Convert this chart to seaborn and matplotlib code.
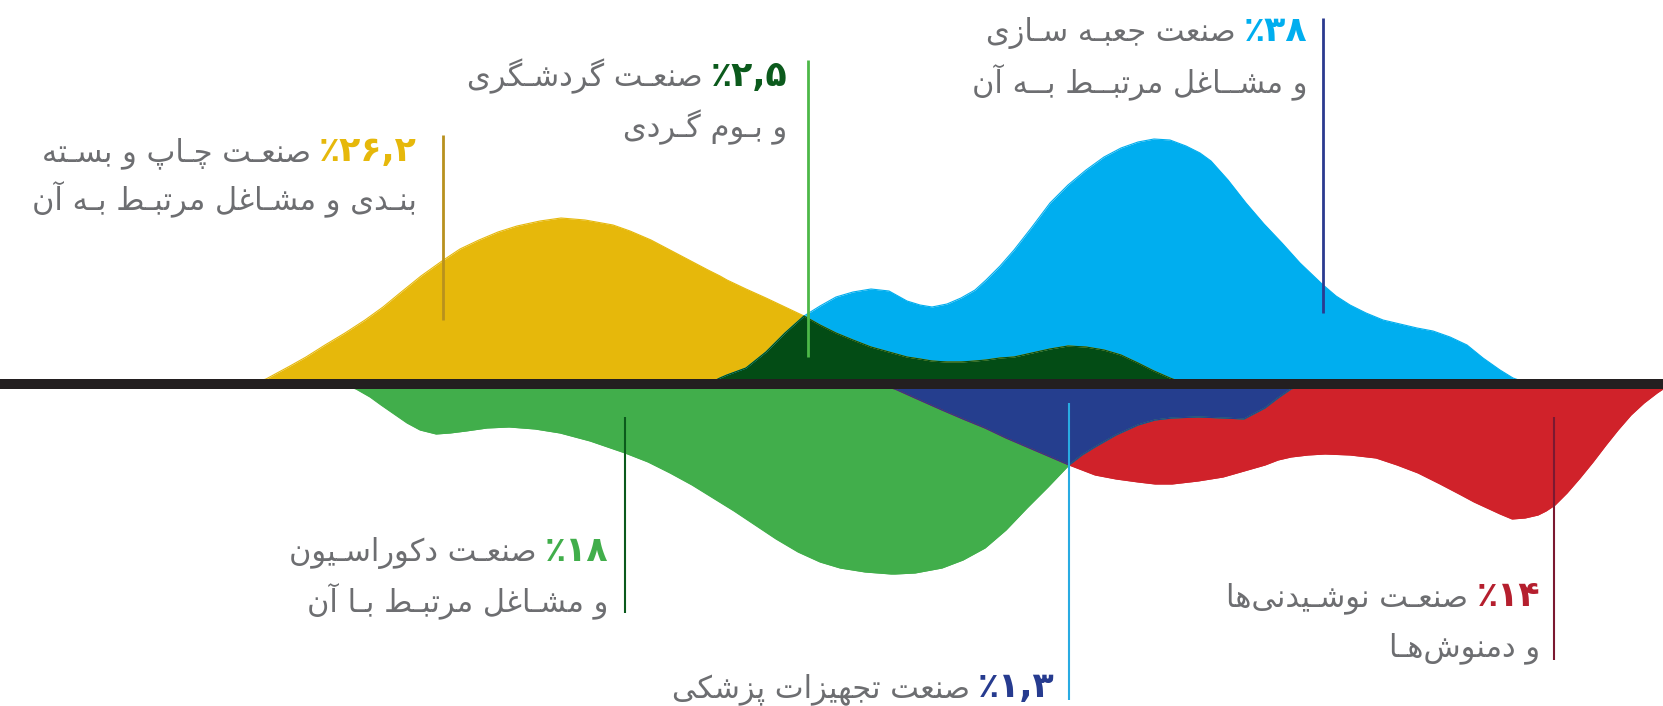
import numpy as np
import pandas as pd
import matplotlib
matplotlib.use("Agg")
import matplotlib.pyplot as plt
import seaborn as sns

# ---------------- data (px units, heights from baseline) ----------------
x_top = [250, 266, 290, 306, 325, 345, 365, 383, 400, 421, 442, 460, 479, 498, 517, 540, 561, 585,
         613, 630, 651, 670, 689, 708, 720, 727, 746, 766, 785, 804, 820, 836, 853, 871, 889, 907,
         920, 932, 947, 961, 975, 986, 1000, 1014, 1032, 1050, 1068, 1086, 1104, 1121, 1138, 1154,
         1170, 1186, 1200, 1211, 1228, 1246, 1264, 1282, 1300, 1322, 1336, 1350, 1366, 1383, 1400,
         1417, 1433, 1450, 1467, 1483, 1500, 1513, 1530]
print_h = [0, 5, 18, 27, 39, 51, 64, 77, 91, 108, 123, 135, 144, 152, 158, 163, 166, 164,
           159, 153, 144, 134, 124, 114, 108, 104, 95, 86, 77, 68, 59, 51, 44, 37, 32, 27,
           25, 23, 22, 22, 23, 24, 26, 27, 31, 35, 38, 37, 34, 29, 21, 13,
           6, 0, 0, 0, 0, 0, 0, 0, 0, 0, 0, 0, 0, 0, 0,
           0, 0, 0, 0, 0, 0, 0, 0]
box_h = [0, 0, 0, 0, 0, 0, 0, 0, 0, 0, 0, 0, 0, 0, 0, 0, 0, 0,
         0, 0, 0, 0, 0, 0, 6, 9, 16, 32, 51, 68, 78, 87, 92, 95, 93, 83,
         79, 77, 80, 86, 94, 104, 118, 134, 157, 181, 199, 214, 227, 236, 242, 245,
         244, 238, 231, 223, 204, 181, 160, 141, 121, 100, 88, 79, 71, 64, 60,
         56, 53, 47, 39, 26, 14, 6, 0]

x_bot = [340, 356, 370, 381, 394, 407, 420, 436, 450, 466, 487, 509, 535, 560, 590, 625, 648, 670,
         692, 713, 734, 755, 776, 798, 820, 840, 865, 891, 895, 915, 942, 963, 985, 1006, 1027, 1048,
         1069, 1082, 1095, 1116, 1138, 1155, 1172, 1198, 1223, 1244, 1265, 1278, 1291, 1308, 1325,
         1350, 1376, 1397, 1418, 1440, 1461, 1474, 1487, 1500, 1512, 1525, 1538, 1546, 1555, 1567,
         1580, 1593, 1606, 1618, 1631, 1644, 1657, 1663]
decor_d = [0, 5, 13, 21, 30, 39, 46, 50, 49, 47, 44, 43, 45, 49, 57, 69, 78, 89,
           101, 114, 127, 141, 155, 168, 178, 184, 188, 190, 190, 189, 184, 176, 164, 146, 124, 103,
           81, 71, 63, 51, 41, 36, 34, 33, 34, 35, 24, 14, 5, 0, 0,
           0, 0, 0, 0, 0, 0, 0, 0, 0, 0, 0, 0, 0, 0, 0,
           0, 0, 0, 0, 0, 0, 0, 0]
drink_d = [0, 0, 0, 0, 0, 0, 0, 0, 0, 0, 0, 0, 0, 0, 0, 0, 0, 0,
           0, 0, 0, 0, 0, 0, 0, 0, 0, 4, 5, 14, 26, 35, 44, 54, 63, 72,
           81, 86, 91, 95, 98, 100, 100, 97, 93, 87, 81, 76, 73, 71, 70,
           71, 74, 81, 89, 100, 111, 118, 124, 130, 135, 134, 131, 127, 121, 109,
           94, 78, 61, 46, 31, 19, 9, 5]

pct_values = [38, 2.5, 26.2, 18, 1.3, 14]
label_lines = [
    ["صنعت جعبـه سـازی", "و مشــاغل مرتبــط بــه آن"],
    ["صنعـت گردشـگری", "و بـوم گـردی"],
    ["صنعـت چـاپ و بسـته", "بنـدی و مشـاغل مرتبـط بـه آن"],
    ["صنعـت دکوراسـیون", "و مشـاغل مرتبـط بـا آن"],
    ["صنعت تجهیزات پزشکی"],
    ["صنعـت نوشـیدنی\u200cها", "و دمنوش\u200cهـا"],
]

# ---------------- colours ----------------
YEL, CYAN, DKGREEN = "#E6B80B", "#00AEEF", "#034C15"
GREEN, DKBLUE, RED = "#41AE4B", "#253E8E", "#D0222A"
BASECOL, TEXTCOL = "#231F20", "#6D6E71"
pct_colors = ["#00AEEF", "#0B5A1C", "#E6B80B", "#41AE4B", "#263B8F", "#B51F2E"]

# ---------------- minimal Persian shaping ----------------
DUAL = {
    'ب': 0xFE8F, 'ت': 0xFE95, 'ث': 0xFE99, 'ج': 0xFE9D, 'ح': 0xFEA1, 'خ': 0xFEA5,
    'س': 0xFEB1, 'ش': 0xFEB5, 'ص': 0xFEB9, 'ض': 0xFEBD, 'ط': 0xFEC1, 'ظ': 0xFEC5,
    'ع': 0xFEC9, 'غ': 0xFECD, 'ف': 0xFED1, 'ق': 0xFED5, 'ل': 0xFEDD, 'م': 0xFEE1,
    'ن': 0xFEE5, 'ه': 0xFEE9, 'پ': 0xFB56, 'چ': 0xFB7A, 'ک': 0xFB8E, 'گ': 0xFB92,
    'ی': 0xFBFC,
}
RIGHT = {'ا': 0xFE8D, 'آ': 0xFE81, 'د': 0xFEA9, 'ذ': 0xFEAB, 'ر': 0xFEAD, 'ز': 0xFEAF,
         'ژ': 0xFB8A, 'و': 0xFEED}
TATWEEL = '\u0640'


def shape(s):
    out = []
    for i, c in enumerate(s):
        prev = s[i - 1] if i > 0 else ''
        nxt = s[i + 1] if i + 1 < len(s) else ''
        prev_links = prev in DUAL or prev == TATWEEL
        next_links = nxt in DUAL or nxt in RIGHT or nxt == TATWEEL
        if c in DUAL:
            b = DUAL[c]
            if prev_links and next_links:
                out.append(chr(b + 3))
            elif prev_links:
                out.append(chr(b + 1))
            elif next_links:
                out.append(chr(b + 2))
            else:
                out.append(chr(b))
        elif c in RIGHT:
            out.append(chr(RIGHT[c] + (1 if prev_links else 0)))
        elif c == '\u200c':
            continue
        else:
            out.append(c)
    return ''.join(out)[::-1]


def fa_num(v):
    s = f"{v:g}"
    return '٪' + s.translate(str.maketrans('0123456789.', '۰۱۲۳۴۵۶۷۸۹,'))


# ---------------- figure ----------------
sns.set_theme(style="white")
plt.rcParams['font.family'] = ['DejaVu Sans']

W, H = 1663, 706
BASE = 384  # baseline row in px

fig = plt.figure(figsize=(W / 100, H / 100), dpi=100)
ax = fig.add_axes([0, 0, 1, 1])
ax.set_xlim(0, W)
ax.set_ylim(BASE - H, BASE)
ax.axis('off')

top = pd.DataFrame({'x': x_top, 'print': print_h, 'box': box_h})
top['tour'] = np.minimum(top['print'], top['box'])
bot = pd.DataFrame({'x': x_bot, 'decor': [-v for v in decor_d], 'drink': [-v for v in drink_d]})
bot['med'] = np.maximum(bot['decor'], bot['drink'])

for df, col, c in [(top, 'print', YEL), (top, 'box', CYAN), (top, 'tour', DKGREEN),
                   (bot, 'decor', GREEN), (bot, 'drink', RED), (bot, 'med', DKBLUE)]:
    ax.fill_between(df['x'], 0, df[col], color=c, lw=0, zorder=2)
    sns.lineplot(data=df, x='x', y=col, color=c, lw=0.8, ax=ax, zorder=2.1,
                 estimator=None, sort=False)

ax.axhline(0, color=BASECOL, lw=7.2, zorder=5)
ax.set_xlim(0, W)
ax.set_ylim(BASE - H, BASE)


def py(y):
    return BASE - y


# leader lines: (x, y0, y1, color, width)
leaders = [
    (1323, 18, 313, "#2B3A8F", 2.0),
    (808, 60, 357, "#4DB848", 2.0),
    (443, 135, 320, "#B8911E", 2.0),
    (625, 417, 613, "#0B5A1C", 1.5),
    (1069, 403, 700, "#29ABE2", 1.5),
    (1554, 417, 660, "#7B1931", 1.5),
]
for x, y0, y1, c, w in leaders:
    ax.plot([x, x], [py(y0), py(y1)], color=c, lw=w, zorder=6, solid_capstyle='butt')

# label blocks: right edge x and baseline y of each line
anchors = [
    (1307, [41, 92]),
    (787, [86, 137]),
    (417, [161, 209]),
    (608, [561, 611]),
    (1055, [697]),
    (1540, [606, 656]),
]
FS = 22
FS_PCT = 25
fig.canvas.draw()
renderer = fig.canvas.get_renderer()
for (xr, ys), v, lines, pc in zip(anchors, pct_values, label_lines, pct_colors):
    t = ax.text(xr, py(ys[0]), fa_num(v), ha='right', va='baseline', color=pc,
                fontsize=FS_PCT, fontweight='bold', zorder=7)
    bb = t.get_window_extent(renderer)
    ax.text(bb.x0 - 8, py(ys[0]), shape(lines[0]), ha='right', va='baseline',
            color=TEXTCOL, fontsize=FS, zorder=7)
    for line, y in zip(lines[1:], ys[1:]):
        ax.text(xr, py(y), shape(line), ha='right', va='baseline',
                color=TEXTCOL, fontsize=FS, zorder=7)

fig.savefig("out.png", dpi=100)
